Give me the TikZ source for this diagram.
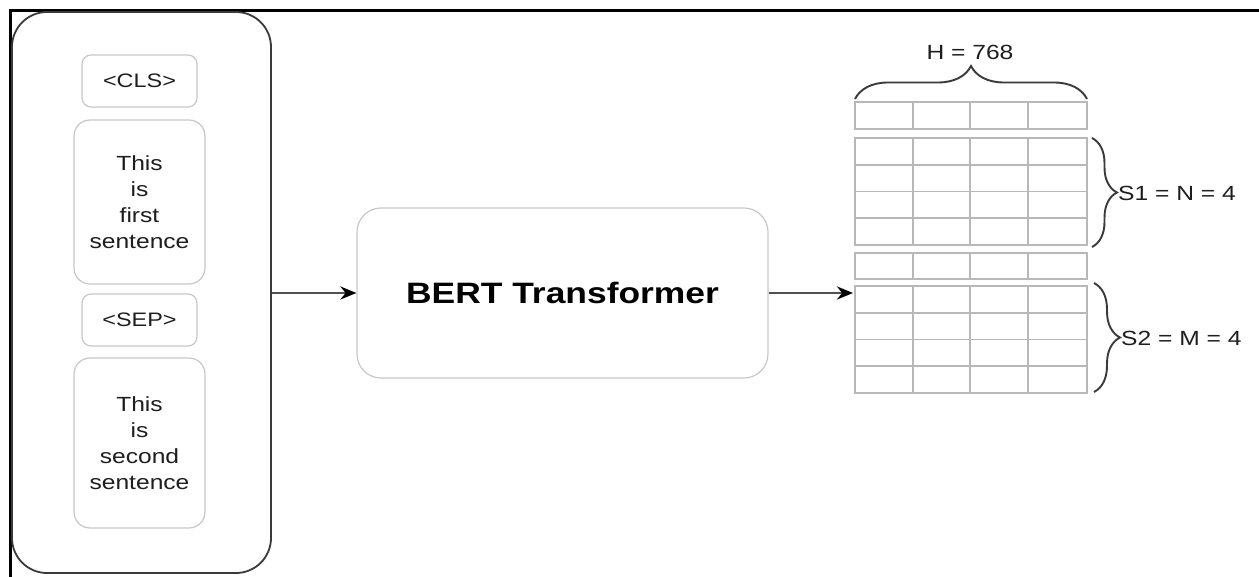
\documentclass[tikz,border=0pt]{standalone}
\usepackage{fontspec}
\setmainfont{Liberation Sans}[FakeStretch=1.2]
\usetikzlibrary{arrows.meta,decorations.pathreplacing}
\definecolor{boxgray}{HTML}{C8C8C8}
\definecolor{gridgray}{HTML}{B8B8B8}
\definecolor{darkline}{HTML}{3A3A3A}
\definecolor{arrowgray}{HTML}{505050}
\definecolor{txt}{HTML}{1E1E1E}
\tikzset{
  outerbox/.style={draw=darkline, line width=1.8pt, rounded corners=35pt, inner sep=0pt},
  tokbox/.style={draw=boxgray, line width=1.2pt, rounded corners=9pt, inner sep=0pt, align=center,
    text=txt, font=\fontsize{19.5}{25}\selectfont},
  sentbox/.style={draw=boxgray, line width=1.2pt, rounded corners=16pt, inner sep=0pt, align=center,
    text=txt, font=\fontsize{20.5}{26}\selectfont},
  bertbox/.style={draw=boxgray, line width=1.2pt, rounded corners=24pt, inner sep=0pt,
    text=black, font=\fontsize{29.5}{34}\selectfont\bfseries},
  flow/.style={draw=arrowgray, line width=2.8pt, -{Stealth[length=16pt,width=13pt,black]}},
  gridline/.style={draw=gridgray, line width=1.8pt},
  bracestyle/.style={draw=darkline, line width=1.9pt, decorate},
  lbl/.style={font=\fontsize{20.5}{24}\selectfont, text=txt, inner sep=0pt}
}
\begin{document}
\begin{tikzpicture}[x=1pt,y=-1pt]
\useasboundingbox (0,0) rectangle (1259,577);
\fill[white] (0,0) rectangle (1259,577);
% frame
\draw[black, line width=2.6pt] (1259,10.5) -- (10.5,10.5) -- (10.5,577);
% left column
\node[outerbox, minimum width=259pt, minimum height=561pt] (outer) at (141.5,292.5) {};
\node[tokbox, minimum width=115pt, minimum height=52pt] (cls) at (139.5,81) {<CLS>};
\node[sentbox, minimum width=131pt, minimum height=164pt] (s1) at (139.5,202) {This\\is\\first\\sentence};
\node[tokbox, minimum width=115pt, minimum height=52pt] (sep) at (139.5,320) {<SEP>};
\node[sentbox, minimum width=131pt, minimum height=170pt] (s2) at (139.5,443) {This\\is\\second\\sentence};
% BERT
\node[bertbox, minimum width=411pt, minimum height=170pt] (bert) at (562.5,293) {BERT Transformer};
% grid
\foreach \ya/\yb/\n in {102/129/1, 138/245/4, 253/279/1, 286/393/4}{
  \draw[gridline] (855,\ya) rectangle (1087,\yb);
  \foreach \x in {913,970,1028}{ \draw[gridline] (\x,\ya) -- (\x,\yb); }
  \ifnum\n>1
    \foreach \k in {1,2,3}{ \draw[gridline] (855,{\ya+\k*(\yb-\ya)/4}) -- (1087,{\ya+\k*(\yb-\ya)/4}); }
  \fi
}
\coordinate (gridin) at (853,293);
% arrows
\draw[flow] (outer.east |- bert.west) -- (bert.west);
\draw[flow] (bert.east) -- (gridin);
% braces
\draw[bracestyle, decoration={brace, amplitude=33pt}] (855,99) -- (1087,99);
\node[lbl] (hlabel) at (970,52) {H = 768};
\draw[bracestyle, decoration={brace, amplitude=25pt}] (1092,138) -- (1092,247);
\node[lbl, anchor=west] (s1label) at (1118,193) {S1 = N = 4};
\draw[bracestyle, decoration={brace, amplitude=26pt}] (1094,283) -- (1094,392);
\node[lbl, anchor=west] (s2label) at (1121,338) {S2 = M = 4};
\end{tikzpicture}
\end{document}
